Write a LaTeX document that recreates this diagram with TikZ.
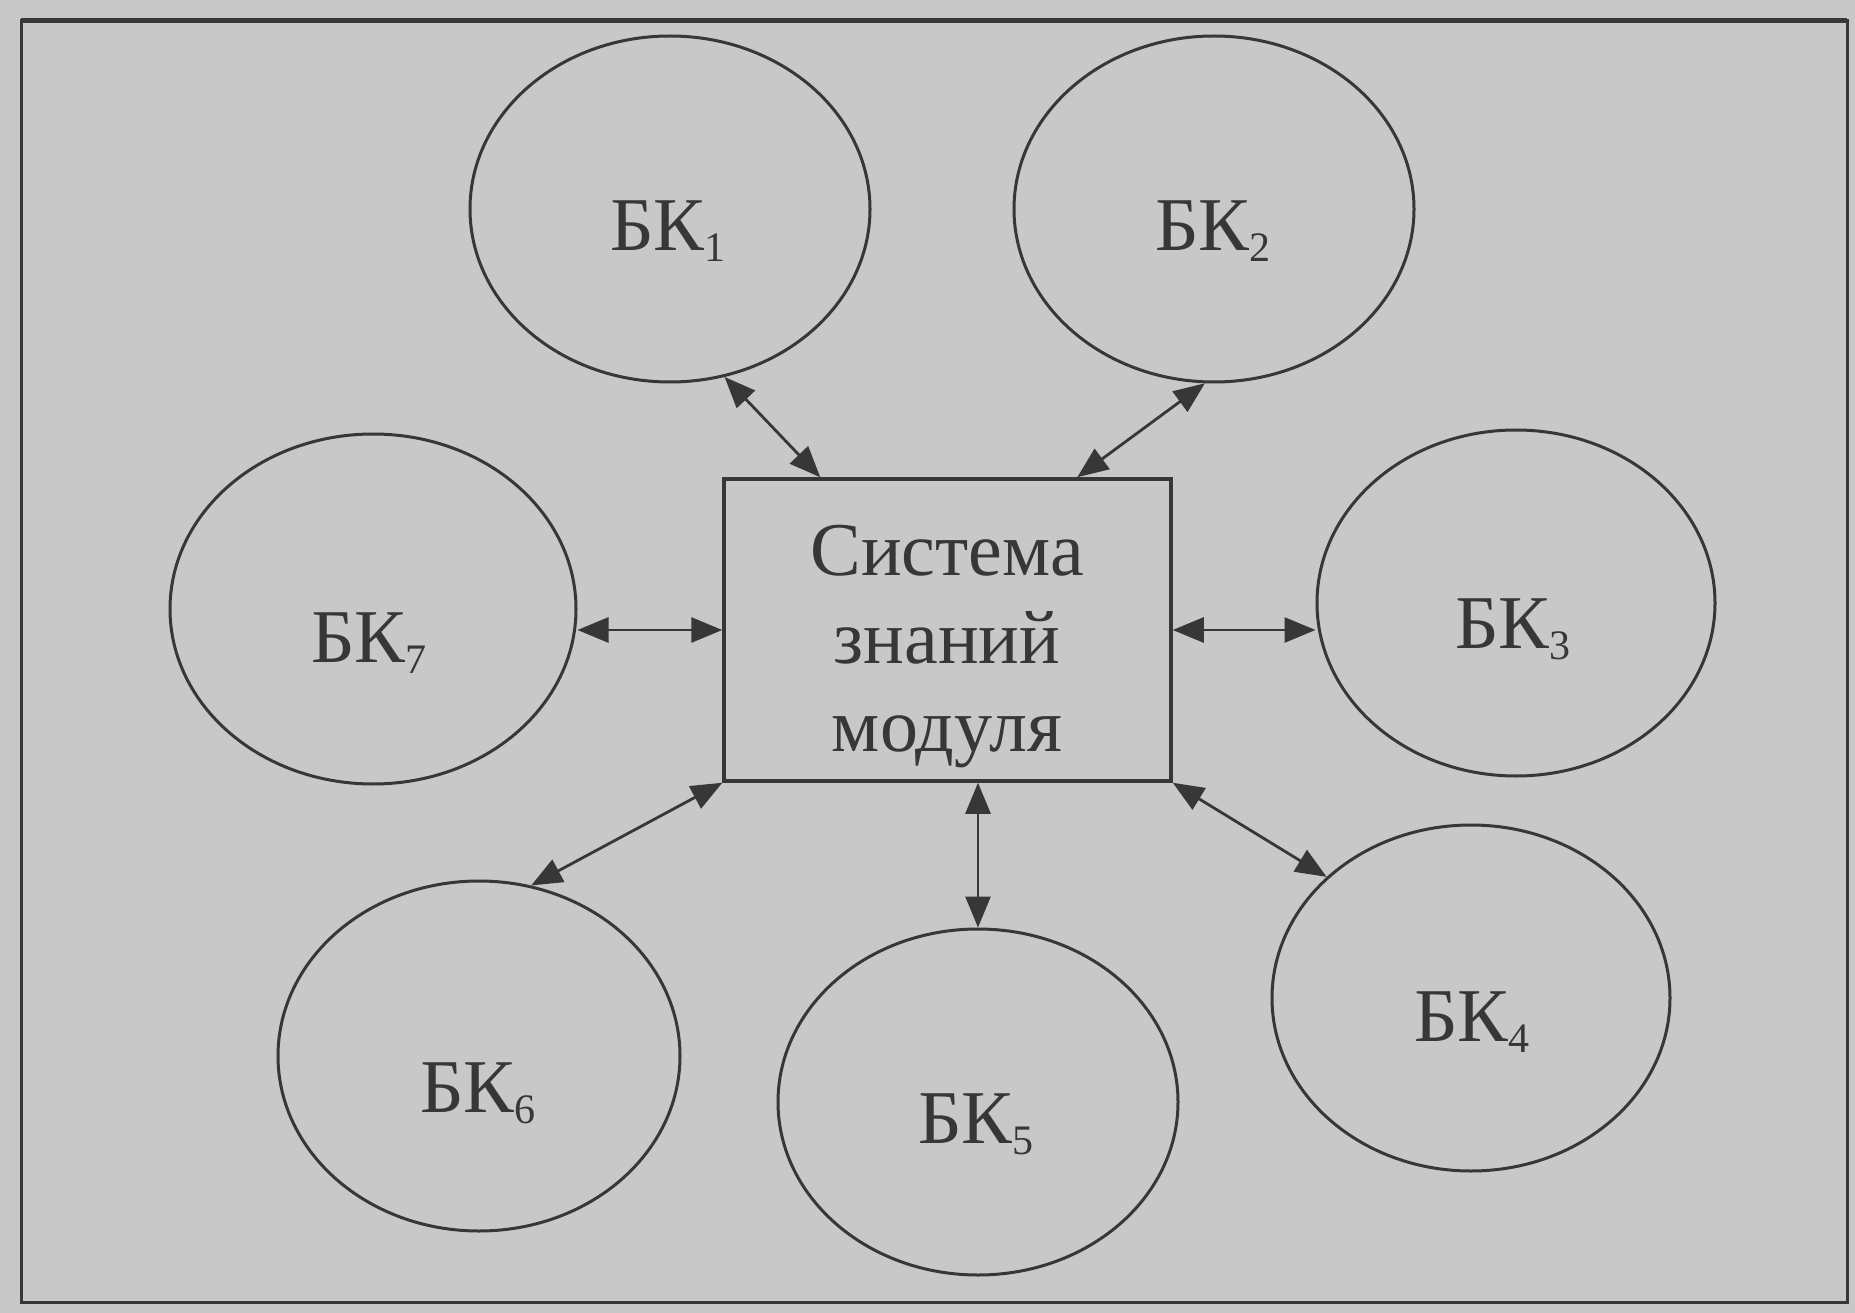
\documentclass[tikz,border=0pt]{standalone}
\usepackage{fontspec}
\setmainfont{Liberation Serif}
\usetikzlibrary{shapes.geometric,arrows.meta,calc}
\definecolor{bg}{RGB}{200,200,200}
\definecolor{ink}{RGB}{55,55,55}
\newcommand{\bksub}[1]{БК\raisebox{-11pt}{\fontsize{42}{42}\selectfont #1}}
\begin{document}
\begin{tikzpicture}[x=1pt,y=-1pt,
  bknode/.style={ellipse,draw=ink,line width=3pt,inner sep=0pt,minimum width=400pt,minimum height=346pt},
  lbl/.style={anchor=base west,inner sep=0pt,text=ink,font=\fontsize{76}{88}\selectfont},
  arr/.style={draw=ink,line width=2.8pt,{Triangle[length=31pt,width=25pt]}-{Triangle[length=31pt,width=25pt]}}]
\fill[bg] (0,0) rectangle (1855,1313);
\useasboundingbox (0,0) rectangle (1855,1313);
\draw[ink,line width=3pt] (21,21) rectangle (1847,1302);
\draw[ink,line width=5pt] (21,21) -- (1847,21);
% central box
\node[draw=ink,line width=3.5pt,minimum width=447pt,minimum height=302pt,inner sep=0pt] (r) at (947.5,630) {};
\node[align=center,inner sep=0pt,text=ink,font=\fontsize{76}{88}\selectfont] (t) at (947,647) {Система\\знаний\\модуля};
% ellipses
\node[bknode] (b1) at (670,209) {};
\node[bknode] (b2) at (1214,209) {};
\node[bknode,minimum width=406pt,minimum height=350pt] (b7) at (373,609) {};
\node[bknode,minimum width=398pt] (b3) at (1516,603) {};
\node[bknode,minimum width=402pt,minimum height=350pt] (b6) at (479,1056) {};
\node[bknode] (b5) at (978,1102) {};
\node[bknode,minimum width=398pt] (b4) at (1471,998) {};
% labels
\node[lbl] (l1) at (610,251) {\bksub{1}};
\node[lbl] (l2) at (1155,251) {\bksub{2}};
\node[lbl] (l7) at (311,662) {\bksub{7}};
\node[lbl] (l3) at (1455,648) {\bksub{3}};
\node[lbl] (l6) at (420,1112) {\bksub{6}};
\node[lbl] (l5) at (918,1143) {\bksub{5}};
\node[lbl] (l4) at (1414,1041) {\bksub{4}};
% connectors
\draw[arr] (b1.-72.6) -- ([xshift=98pt]r.north west);
\draw[arr] (b2.-93) -- ([xshift=355pt]r.north west);
\draw[arr] (b7.east |- r.west) -- (r.west);
\draw[arr] (r.east) -- (b3.west |- r.east);
\draw[arr] (r.south west) -- (b6.73.8);
\draw[arr] (r.south -| b5.north) -- (b5.north);
\draw[arr] (r.south east) -- (b4.140.6);
\end{tikzpicture}
\end{document}
